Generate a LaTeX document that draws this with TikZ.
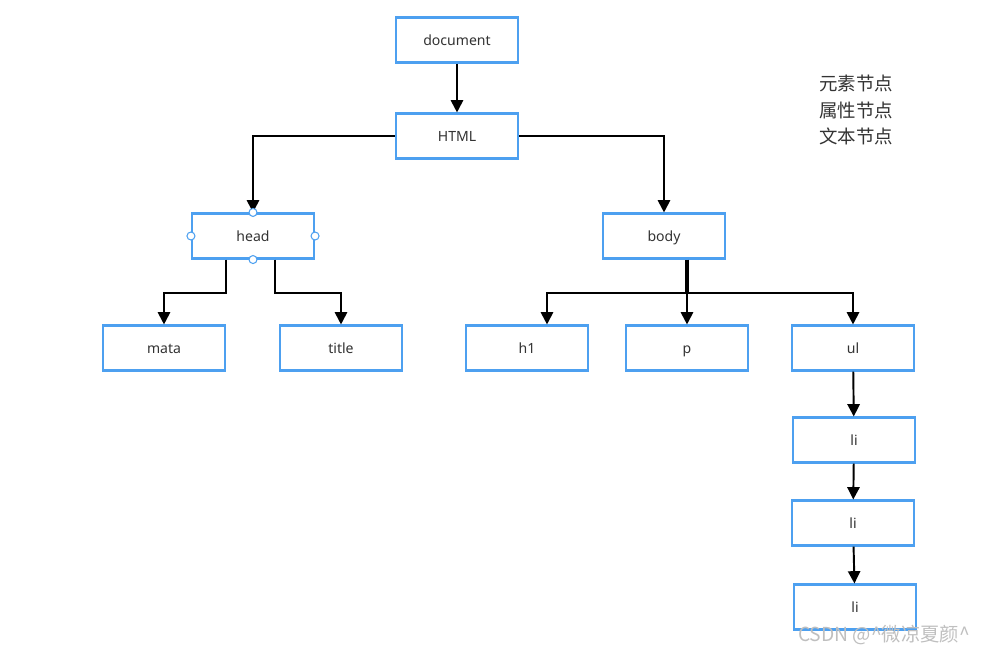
\documentclass[tikz,border=0pt]{standalone}
\usepackage{fontspec}
\setmainfont{Noto Sans}
\newfontfamily\cjk{Noto Sans CJK SC}
\usetikzlibrary{arrows.meta}
\usetikzlibrary{calc}
\definecolor{boxblue}{RGB}{77,160,240}
\definecolor{txtgray}{RGB}{51,51,51}
\tikzset{
  elem/.style={draw=boxblue, line width=1.2pt, fill=white, minimum width=2.44cm, minimum height=0.9cm,
    inner sep=0pt, text height=1.5ex, text depth=0.35ex, font=\fontsize{8}{9}\selectfont, text=txtgray},
  arr/.style={line width=1.1pt, -{Triangle[width=7pt,length=7pt]}},
  handle/.style={draw=boxblue, fill=white, line width=0.6pt}
}

\begin{document}
\begin{tikzpicture}[x=0.02cm, y=-0.02cm]
        \useasboundingbox (0,0) rectangle (986,655);
        \node[elem] (document) at (457, 40) {document};
        \node[elem] (html) at (457, 136) {HTML};
        \node[elem] (head) at (253, 236) {head};
        \node[elem] (body) at (664, 236) {body};
        \node[elem] (mata) at (164, 348) {mata};
        \node[elem] (title) at (341, 348) {title};
        \node[elem] (h1) at (527, 348) {h1};
        \node[elem] (p) at (687, 348) {p};
        \node[elem] (ul) at (853, 348) {ul};
        \node[elem] (li1) at (854, 440) {li};
        \node[elem] (li2) at (853, 523) {li};
        \node[elem] (li3) at (855, 607) {li};
        \draw[arr] (document) -- (html);
        \draw[arr] (html.west) -| (head.north);
        \draw[arr] (html.east) -| (body.north);
        \draw[arr] ($(head.south)+(-27,0)$) -- ++(0,33) -| (mata.north);
        \draw[arr] ($(head.south)+(22,0)$) -- ++(0,33) -| (title.north);
        \draw[line width=2.2pt] ($(body.south)+(23,0)$) -- ++(0,33) coordinate (bj);
        \draw[arr] (bj) -| ($(h1.north)+(20,0)$);
        \draw[arr] (bj) -- (p.north);
        \draw[arr] (bj) -| (ul.north);
        \draw[arr] (ul) -- (li1);
        \draw[arr] (li1) -- (li2);
        \draw[arr] (li2) -- (li3);
        \foreach \a in {north,south,east,west}
          \draw[handle] (head.\a) circle (4);
        \node[font=\cjk\fontsize{10.5}{15}\selectfont, text=txtgray, align=left] (legend) at (856, 110)
          {元素节点\\属性节点\\文本节点};
        \node[font=\cjk\fontsize{11}{13}\selectfont, text=black!25] (mark) at (884, 635)
          {CSDN @\textasciicircum 微凉夏颜\textasciicircum};
\end{tikzpicture}
\end{document}
